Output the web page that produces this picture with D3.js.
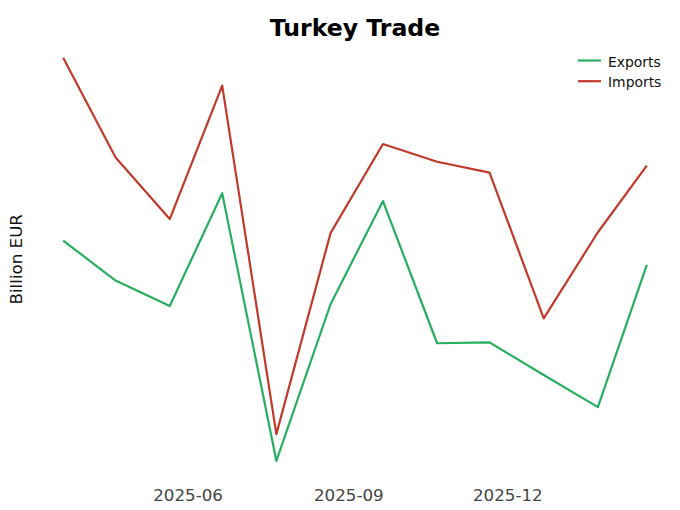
<!DOCTYPE html>
<html>
<head>
<meta charset="utf-8">
<script src="https://cdn.jsdelivr.net/npm/d3@7"></script>
<style>
  body { margin: 0; background: #fff; }
  text { font-family: 'DejaVu Sans', sans-serif; }
</style>
</head>
<body>
<div id="graph"></div>
<script>
// month-end dates of the series
const months = [
  '2025-03-31', '2025-04-30', '2025-05-31', '2025-06-30', '2025-07-31', '2025-08-31',
  '2025-09-30', '2025-10-31', '2025-11-30', '2025-12-31', '2026-01-31', '2026-02-28',
];
const exportsBn = [21.9, 20.57, 19.72, 23.48, 14.56, 19.78, 23.22, 18.48, 18.51, 17.42, 16.35, 21.09];
const importsBn = [28.0, 24.67, 22.62, 27.07, 15.45, 22.15, 25.12, 24.53, 24.17, 19.31, 22.18, 24.4];
const tickLabels = ['2025-06', '2025-09', '2025-12'];
const seriesNames = ['Exports', 'Imports'];

const lineColors = {
  Exports: '#27ae60',
  Imports: '#c0392b',
};

const width = 680;
const height = 510;
const margin = {
  top: 37.5,
  right: 4,
  bottom: 29,
  left: 34,
};
const innerWidth = width - margin.left - margin.right;
const innerHeight = height - margin.top - margin.bottom;

const parseDay = d3.timeParse('%Y-%m-%d');
const parseMonth = d3.timeParse('%Y-%m');

const graphData = months.map((m, i) => ({
  day: parseDay(m),
  Exports: exportsBn[i],
  Imports: importsBn[i],
}));

let svg;
let xScale;
let yScale;

const padDomain = (lo, hi) => {
  const pad = (hi - lo) * 0.05;
  return [lo - pad, hi + pad];
};

const drawGraph = () => {
  const [t0, t1] = d3.extent(graphData, (d) => d.day);
  const [x0, x1] = padDomain(+t0, +t1);
  xScale = d3.scaleTime()
    .domain([new Date(x0), new Date(x1)])
    .range([0, innerWidth]);

  const yMin = d3.min(graphData, (d) => Math.min(d.Exports, d.Imports));
  const yMax = d3.max(graphData, (d) => Math.max(d.Exports, d.Imports));
  yScale = d3.scaleLinear()
    .domain(padDomain(yMin, yMax))
    .range([innerHeight, 0]);

  const root = d3.select('#graph')
    .append('svg')
    .attr('width', width)
    .attr('height', height);

  root.append('text')
    .attr('x', margin.left + innerWidth / 2)
    .attr('y', 36)
    .attr('text-anchor', 'middle')
    .style('font-size', '23.6px')
    .style('font-weight', 'bold')
    .text('Turkey Trade');

  root.append('text')
    .attr('transform', `translate(22, ${margin.top + innerHeight / 2}) rotate(-90)`)
    .attr('text-anchor', 'middle')
    .style('font-size', '16.7px')
    .style('fill', '#111')
    .text('Billion EUR');

  svg = root.append('g')
    .attr('transform', `translate(${margin.left}, ${margin.top})`);

  const xAxis = d3.axisBottom(xScale)
    .tickValues(tickLabels.map(parseMonth))
    .tickFormat(d3.timeFormat('%Y-%m'))
    .tickSize(0)
    .tickPadding(8);

  const gx = svg.append('g')
    .attr('class', 'x-axis')
    .attr('transform', `translate(0, ${innerHeight})`)
    .call(xAxis);

  gx.select('.domain').remove();
  gx.selectAll('text')
    .attr('dx', 16)
    .style('font-size', '16.7px')
    .style('font-family', "'DejaVu Sans', sans-serif")
    .style('fill', '#444');
};

const drawLine = (attribute) => {
  const line = d3.line()
    .x((d) => xScale(d.day))
    .y((d) => yScale(d[attribute]));

  svg.append('path')
    .datum(graphData)
    .attr('fill', 'none')
    .attr('stroke', lineColors[attribute])
    .attr('stroke-width', 2.2)
    .attr('stroke-linejoin', 'round')
    .attr('d', line);
};

const drawLegends = () => {
  const svgLegend = svg.append('g')
    .attr('transform', `translate(${578 - margin.left}, ${60.5 - margin.top})`);

  const legend = svgLegend.selectAll('.legend')
    .data(seriesNames)
    .enter()
    .append('g')
    .attr('class', 'legend')
    .attr('transform', (_, i) => `translate(0, ${i * 20.7})`);

  legend.append('line')
    .attr('x1', 0)
    .attr('x2', 23)
    .attr('stroke', (d) => lineColors[d])
    .attr('stroke-width', 2.2);

  legend.append('text')
    .attr('x', 30)
    .attr('y', 6)
    .style('font-size', '13.9px')
    .style('fill', '#111')
    .text((d) => d);
};

drawGraph();
drawLine('Exports');
drawLine('Imports');
drawLegends();
</script>
</body>
</html>
